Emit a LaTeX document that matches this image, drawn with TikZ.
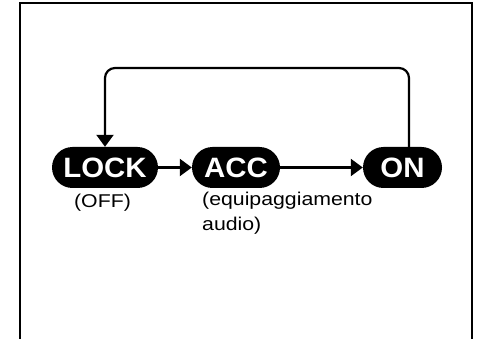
\documentclass[tikz,border=0pt]{standalone}
\usepackage{fontspec}
\setmainfont{Liberation Sans}
\newfontfamily\widefont[FakeStretch=1.15]{Liberation Sans}
\newfontfamily\pillfont[FakeStretch=1.05]{Liberation Sans Bold}
\usetikzlibrary{arrows.meta}
\begin{document}
\begin{tikzpicture}[x=1pt,y=-1pt,
  pill/.style={fill=black,text=white,rounded corners=20.5pt,minimum height=41pt,inner sep=0pt,font=\pillfont\fontsize{28}{28}\selectfont},
  conn/.style={line width=2.2pt,-{Triangle[length=12pt,width=17pt]}},
  lbl/.style={inner sep=0pt,font=\widefont\fontsize{18.5}{25}\selectfont}]
\useasboundingbox (0,0) rectangle (477,339);
\draw[line width=2.2pt] (20,339) -- (20,3) -- (472,3) -- (472,339);
\node[pill,minimum width=106pt] (lock) at (105,167.5) {LOCK};
\node[pill,minimum width=88pt] (acc) at (236,167.5) {ACC};
\node[pill,minimum width=79pt] (on) at (402.5,167.5) {ON};
\node[lbl,anchor=base] (off) at (102.5,208) {(OFF)};
\node[lbl,anchor=base west,align=left] (eq) at (202,231) {(equipaggiamento\\audio)};
\coordinate (tl) at (105,68);
\draw[conn] (lock) -- (acc);
\draw[conn] (acc) -- (on);
\draw[conn,rounded corners=10pt] ([xshift=6.5pt]on.north) |- (tl) -- (lock.north);
\end{tikzpicture}
\end{document}
